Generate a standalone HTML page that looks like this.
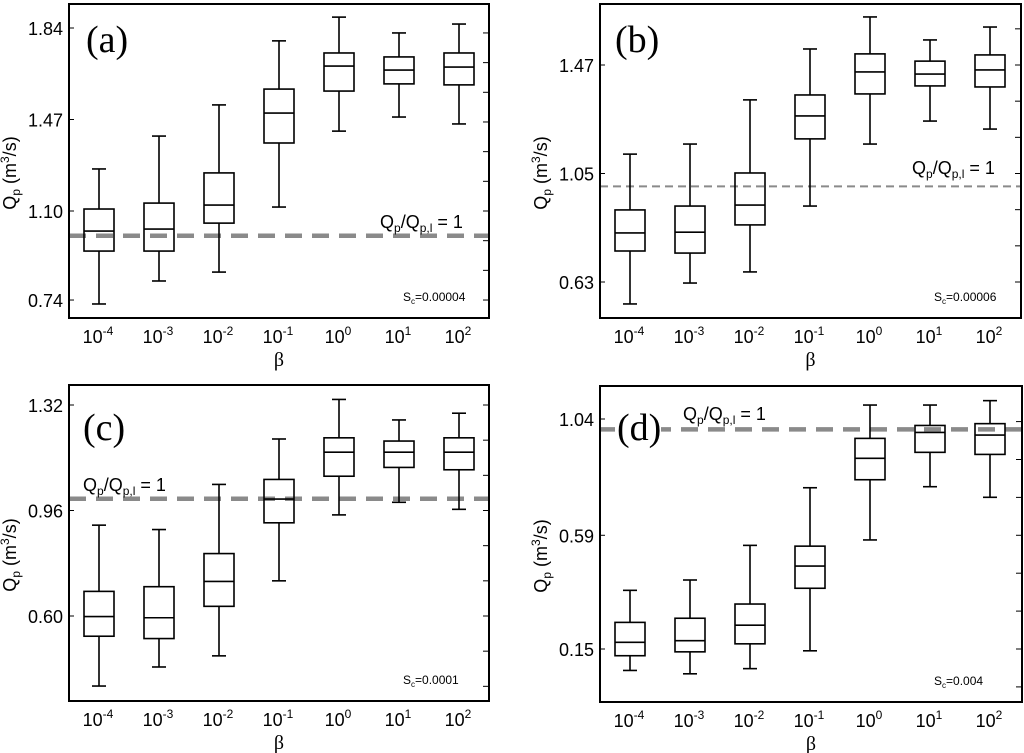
<!DOCTYPE html>
<html><head><meta charset="utf-8">
<style>
html,body{margin:0;padding:0;background:#fff;}
svg{display:block;font-family:"Liberation Sans",sans-serif;}
</style></head>
<body>
<svg id="fig" width="1024" height="753" viewBox="0 0 1024 753"></svg>
<script>
const categories = ["-4","-3","-2","-1","0","1","2"];
// [low, q1, median, q3, high] per beta for each panel
const panelA = [[0.724,0.938,1.019,1.108,1.27],[0.817,0.938,1.027,1.132,1.403],[0.853,1.051,1.124,1.254,1.529],[1.116,1.375,1.496,1.593,1.788],[1.423,1.585,1.686,1.739,1.884],[1.48,1.614,1.67,1.723,1.82],[1.452,1.61,1.682,1.739,1.856]];
const panelB = [[0.545,0.750,0.820,0.909,1.125],[0.626,0.742,0.823,0.924,1.164],[0.669,0.851,0.928,1.052,1.335],[0.924,1.184,1.273,1.354,1.532],[1.164,1.358,1.443,1.513,1.656],[1.253,1.389,1.435,1.485,1.567],[1.222,1.385,1.451,1.509,1.617]];
const panelC = [[0.361,0.531,0.598,0.684,0.910],[0.426,0.523,0.594,0.700,0.895],[0.464,0.633,0.718,0.813,1.049],[0.72,0.918,0.999,1.066,1.204],[0.945,1.077,1.159,1.208,1.339],[0.988,1.107,1.159,1.197,1.269],[0.964,1.099,1.159,1.208,1.292]];
const panelD = [[0.067,0.124,0.176,0.253,0.377],[0.054,0.139,0.182,0.269,0.417],[0.074,0.170,0.242,0.324,0.551],[0.143,0.385,0.471,0.548,0.774],[0.572,0.805,0.888,0.965,1.094],[0.778,0.911,0.988,1.015,1.094],[0.737,0.903,0.978,1.022,1.111]];
const ticksA = [0.74,1.10,1.47,1.84];
const ticksB = [0.63,1.05,1.47];
const ticksC = [0.60,0.96,1.32];
const ticksD = [0.15,0.59,1.04];
const refLine = 1.0;

const NS="http://www.w3.org/2000/svg";
const svg=document.getElementById('fig');
function el(t,a,p){const e=document.createElementNS(NS,t);for(const k in a)e.setAttribute(k,a[k]);(p||svg).appendChild(e);return e;}

const panels=[
 {id:'a',data:panelA,ticks:ticksA,fx:69,fy:4,fw:420,fh:314,t0:1.84,y0:28,px:0.37/91.5,dash:'17 10',dw:4.5,lab:[86,52],ref:[380,228],sc:[403,301],sct:'0.00004'},
 {id:'b',data:panelB,ticks:ticksB,fx:600,fy:4,fw:421,fh:314,t0:1.47,y0:65,px:0.42/108.5,dash:'8 5',dw:2,lab:[615,52],ref:[912,174],sc:[934,301],sct:'0.00006'},
 {id:'c',data:panelC,ticks:ticksC,fx:69,fy:385,fw:420,fh:316,t0:1.32,y0:405,px:0.36/105.5,dash:'17 10',dw:4.5,lab:[83,440],ref:[83,491],sc:[403,684],sct:'0.0001'},
 {id:'d',data:panelD,ticks:ticksD,fx:600,fy:386,fw:422,fh:316,t0:1.04,y0:419,px:0.89/230,dash:'17 10',dw:4.5,lab:[617,440],ref:[683,420],sc:[934,685],sct:'0.004'}
];

panels.forEach(P=>{
  const g=el('g',{});
  
  
  const y=v=>P.y0+(P.t0-v)/P.px;
  const x=i=>P.fx+30+i*60;
  const rl=el('line',{x1:P.fx,x2:P.fx+P.fw,y1:y(refLine),y2:y(refLine),stroke:'#8a8a8a','stroke-width':P.dw,'stroke-dasharray':P.dash},g);
  
  
  const step=(P.ticks[1]-P.ticks[0]);
  P.ticks.forEach(t=>{
    el('line',{x1:P.fx,x2:P.fx+5,y1:y(t),y2:y(t),stroke:'#000','stroke-width':1},g);
    const tl=el('text',{x:P.fx-6,y:y(t)+7,'text-anchor':'end','font-size':18,fill:'#000'},g);
    tl.textContent=t.toFixed(2);
    
    
  });
  for(let k=-6;k<30;k++){
    const v=P.ticks[0]+k*step/3;
    const yy=y(v);
    if(yy>P.fy+5&&yy<P.fy+P.fh-5) el('line',{x1:P.fx+P.fw-6,x2:P.fx+P.fw,y1:yy,y2:yy,stroke:'#000','stroke-width':1},g);
  }
  P.data.forEach((d,i)=>{
    const cx=x(i);
    const b=el('g',{},g);
    
    
    const s={stroke:'#000','stroke-width':1.6,fill:'none'};
    el('line',Object.assign({x1:cx,x2:cx,y1:y(d[4]),y2:y(d[3])},s),b);
    el('line',Object.assign({x1:cx,x2:cx,y1:y(d[1]),y2:y(d[0])},s),b);
    el('line',Object.assign({x1:cx-7,x2:cx+7,y1:y(d[4]),y2:y(d[4])},s),b);
    el('line',Object.assign({x1:cx-7,x2:cx+7,y1:y(d[0]),y2:y(d[0])},s),b);
    el('rect',Object.assign({x:cx-15,y:y(d[3]),width:30,height:y(d[1])-y(d[3])},s),b);
    el('line',Object.assign({x1:cx-15,x2:cx+15,y1:y(d[2]),y2:y(d[2])},s),b);
    const xl=el('text',{x:cx-1,y:P.fy+P.fh+25,'text-anchor':'middle','font-size':18},g);
    xl.innerHTML='10<tspan dy="-8" font-size="12">'+categories[i]+'</tspan>';
    
    
  });
  const fr=el('rect',{x:P.fx,y:P.fy,width:P.fw,height:P.fh,fill:'none',stroke:'#000','stroke-width':2},g);
  
  
  const xt=el('text',{x:P.fx+P.fw/2,y:P.fy+P.fh+48,'text-anchor':'middle','font-size':20,'font-family':'Liberation Serif, serif'},g);
  xt.textContent='β';
  
  
  const yt=el('text',{transform:'translate('+(P.fx-53)+','+(P.fy+P.fh/2+12)+') rotate(-90)','text-anchor':'middle','font-size':18},g);
  yt.innerHTML='Q<tspan dy="4" font-size="12">p</tspan><tspan dy="-4"> (m</tspan><tspan dy="-7" font-size="12">3</tspan><tspan dy="7">/s)</tspan>';
  
  
  el('rect',{x:P.lab[0]-2,y:P.lab[1]-32,width:46,height:42,fill:'#fff'},g);
  const lb=el('text',{x:P.lab[0],y:P.lab[1],'font-size':38,'font-family':'Liberation Serif, serif'},g);
  lb.textContent='('+P.id+')';
  
  
  const rt=el('text',{x:P.ref[0],y:P.ref[1],'font-size':18},g);
  rt.innerHTML='Q<tspan dy="4" font-size="12">p</tspan><tspan dy="-4">/Q</tspan><tspan dy="4" font-size="12">p,l</tspan><tspan dy="-4"> = 1</tspan>';
  
  
  const sc=el('text',{x:P.sc[0],y:P.sc[1],'font-size':12},g);
  sc.innerHTML='S<tspan dy="3" font-size="8">c</tspan><tspan dy="-3">='+P.sct+'</tspan>';
  
  
});
</script>
</body></html>
